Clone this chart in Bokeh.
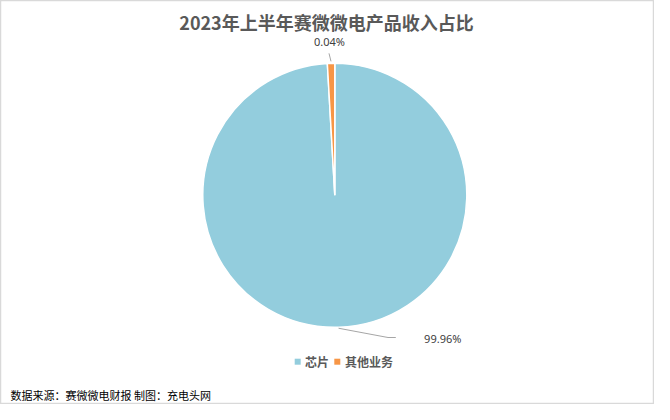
import math
from bokeh.plotting import figure
from bokeh.models import Range1d, ColumnDataSource
from bokeh.core.properties import value
from bokeh.embed import file_html
from bokeh.resources import INLINE

# ---- data ----
title_text = "2023年上半年赛微微电产品收入占比"
categories = ["芯片", "其他业务"]
shares = [99.1, 0.9]            # drawn slice sizes
labels = ["99.96%", "0.04%"]    # printed labels
colors = ["#93CDDD", "#F79646"]
source_note = "数据来源：赛微微电财报 制图：充电头网"

W, H = 654, 404
p = figure(width=W, height=H, output_backend="svg", toolbar_location=None,
           x_range=Range1d(0, W), y_range=Range1d(0, H), min_border=0)
p.axis.visible = False
p.grid.visible = False
p.outline_line_color = "#d9d9d9"
p.outline_line_width = 1.5
p.background_fill_color = "white"
p.border_fill_color = "white"

cx, cy, R = 334.3, 209.2, 132
total = sum(shares)
starts, ends, mids = [], [], []
cum = 0.0
for s in shares:
    a0 = math.pi / 2 - 2 * math.pi * cum / total
    cum += s
    a1 = math.pi / 2 - 2 * math.pi * cum / total
    starts.append(a0)
    ends.append(a1)
    mids.append((a0 + a1) / 2)

src = ColumnDataSource(dict(start=starts, end=ends, color=colors, cat=categories))
p.wedge(x=cx, y=cy, radius=R, start_angle="start", end_angle="end", direction="clock",
        fill_color="color", line_color="white", line_width=1.5, source=src)

font = value("Noto Sans CJK SC")
lab_font = value("Noto Sans")

# leader + label for 芯片
m = mids[0]
x0, y0 = cx + (R + 1) * math.cos(m), cy + (R + 1) * math.sin(m)
p.line([x0, 387.5, 395.3], [y0, 67, 67], line_color="#a6a6a6", line_width=1)
p.text(x=[423.6], y=[66.5], text=[labels[0]], text_font=lab_font, text_font_size="11px",
       text_color="#404040", text_align="left", text_baseline="middle")

# leader + label for 其他业务
m = mids[1]
xa, ya = cx + (R + 2) * math.cos(m), cy + (R + 2) * math.sin(m)
p.line([xa, xa - 2], [ya, ya + 8], line_color="#a6a6a6", line_width=1)
p.text(x=[329], y=[362.6], text=[labels[1]], text_font=lab_font, text_font_size="11px",
       text_color="#404040", text_align="center", text_baseline="middle")

# title
p.text(x=[326], y=[382.8], text=[title_text], text_font=font, text_font_size="18px",
       text_font_style="bold", text_color="#595959", text_align="center",
       text_baseline="middle")

# legend
p.scatter(x=[297.2, 336.8], y=[42.8, 42.8], marker="square", size=6,
          fill_color=colors, line_color=None)
p.text(x=[304.5, 344.6], y=[42.8, 42.8], text=categories, text_font=font,
       text_font_size="12px", text_font_style="bold", text_color="#595959",
       text_align="left", text_baseline="middle")

# source note
p.text(x=[10], y=[10], text=[source_note], text_font=font, text_font_size="11px",
       text_color="#000000", text_align="left", text_baseline="middle")

open("out.html", "w").write(file_html(p, INLINE))
